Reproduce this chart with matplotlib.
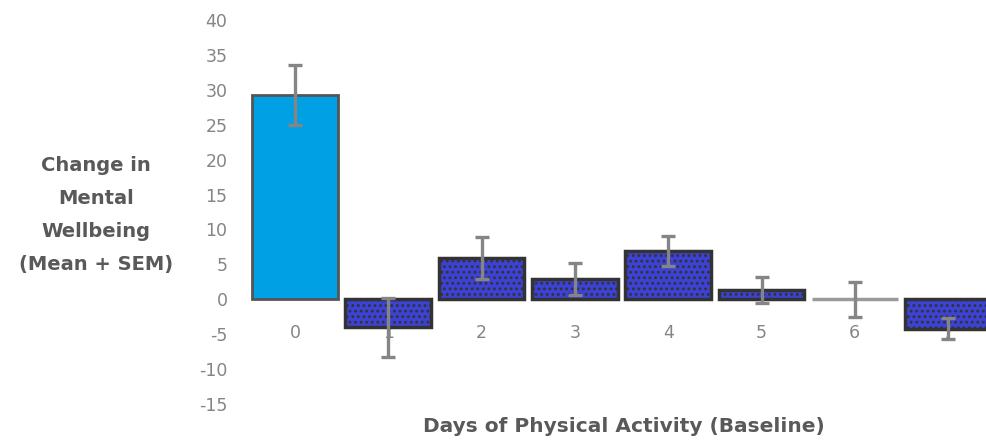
import matplotlib
matplotlib.use("Agg")
from matplotlib import pyplot as plt

# values
days = [0, 1, 2, 3, 4, 5, 6, 7]
day_labels = ["0", "1", "2", "3", "4", "5", "6", "7"]
change = [29.2, -4.0, 5.9, 2.9, 6.9, 1.3, 0.0, -4.2]
sem = [4.3, 4.2, 3.0, 2.3, 2.2, 1.9, 2.5, 1.5]
y_ticks = [40, 35, 30, 25, 20, 15, 10, 5, 0, -5, -10, -15]

plt.rcParams["font.family"] = ["DejaVu Sans"]
plt.rcParams["axes.unicode_minus"] = False
plt.rcParams["hatch.linewidth"] = 1.3
grey = "#858585"
label_grey = "#595959"


def main():
    fig = plt.figure(figsize=(9.86, 4.41), dpi=100)
    ax = fig.add_axes([240 / 986, 37 / 441, 746 / 986, 384 / 441])

    # first bar plain light blue, the rest blue with a dark dot pattern
    ax.bar(days[0], change[0], width=0.92, color="#00a0e4",
           edgecolor="#555555", linewidth=2, zorder=3)
    edges = ["#333333"] * 5 + ["#9a9a9a", "#333333"]
    ax.bar(days[1:], change[1:], width=0.92, color="#3d42d6",
           edgecolor=edges, linewidth=2.5, hatch="...", zorder=3)
    ax.errorbar(days, change, yerr=sem, fmt="none", ecolor=grey,
                elinewidth=2.4, capsize=5, capthick=2.4, zorder=4)

    # category labels sit just under the zero line, behind the bars
    for d, lab in zip(days, day_labels):
        ax.text(d, -4.9, lab, ha="center", va="center", fontsize=12.5,
                color=grey, zorder=1)

    ax.set_xlim(-0.589, 7.406)
    ax.set_ylim(-15, 40)
    ax.set_yticks(y_ticks)
    ax.set_xticks([])
    ax.tick_params(axis="y", length=0, pad=9, labelsize=12.5, labelcolor=grey)
    for s in ax.spines.values():
        s.set_visible(False)

    fig.text(96 / 986, 1 - 215 / 441,
             "Change in\nMental\nWellbeing\n(Mean + SEM)",
             ha="center", va="center", fontsize=14, fontweight="bold",
             color=label_grey, linespacing=1.95)
    fig.text(624 / 986, 1 - 427 / 441, "Days of Physical Activity (Baseline)",
             ha="center", va="center", fontsize=14.5, fontweight="bold",
             color=label_grey)

    plt.savefig("out.png", dpi=100)
    plt.close()


if __name__ == "__main__":
    main()
